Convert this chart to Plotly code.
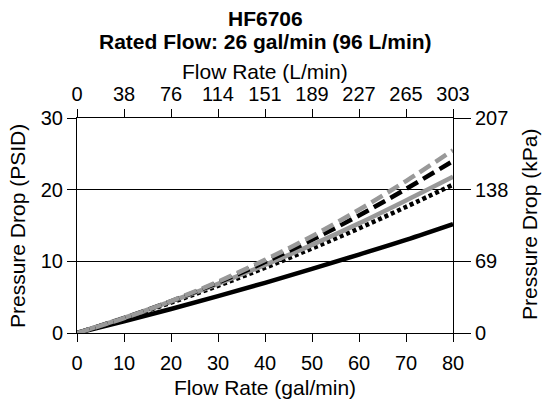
import plotly.graph_objects as go

flow_gpm = [0, 10, 20, 30, 40, 50, 60, 70, 80]
grey_dashed = [0, 2.07, 4.46, 7.16, 10.2, 13.5, 17.2, 21.2, 25.5]
black_dashed = [0, 2.08, 4.43, 7.03, 9.9, 13.0, 16.4, 20.1, 24.0]
grey_solid = [0, 2.11, 4.40, 6.86, 9.5, 12.3, 15.3, 18.5, 21.8]
black_dotted = [0, 2.04, 4.23, 6.59, 9.1, 11.8, 14.6, 17.6, 20.7]
black_solid = [0, 1.64, 3.35, 5.14, 7.0, 8.94, 10.95, 13.0, 15.2]

bottom_ticks = [0, 10, 20, 30, 40, 50, 60, 70, 80]
top_tick_labels = ["0", "38", "76", "114", "151", "189", "227", "265", "303"]
left_ticks = [0, 10, 20, 30]
right_tick_labels = ["0", "69", "138", "207"]

GREY = "#999999"
FONT = "Liberation Sans, Arial, sans-serif"
TICK_SIZE = 20
TITLE_SIZE = 21

fig = go.Figure()
series = [
    (black_solid, "black", "solid"),
    (black_dotted, "black", "4px,3px"),
    (grey_solid, GREY, "solid"),
    (black_dashed, "black", "13px,6px"),
    (grey_dashed, GREY, "13px,6px"),
]
for ys, col, dash in series:
    fig.add_trace(go.Scatter(x=flow_gpm, y=ys, mode="lines",
                             line=dict(color=col, width=4.5, dash=dash, shape="spline"),
                             showlegend=False, hoverinfo="skip"))
# invisible trace for secondary axes
fig.add_trace(go.Scatter(x=[0, 80], y=[0, 30], xaxis="x2", yaxis="y2",
                         mode="markers", marker=dict(opacity=0),
                         showlegend=False, hoverinfo="skip"))

def axis_common(ticklen, standoff=0):
    return dict(showline=True, linecolor="black", linewidth=1,
                ticks="outside", ticklen=ticklen, tickcolor="black", tickwidth=1,
                tickfont=dict(size=TICK_SIZE, color="black", family=FONT),
                ticklabelstandoff=standoff,
                zeroline=False, automargin=False, fixedrange=True)

PLOT_TOP = 118
PLOT_BOTTOM = 333
PLOT_LEFT = 77
PLOT_RIGHT = 453

fig.update_layout(
    width=542, height=402,
    margin=dict(l=PLOT_LEFT, r=542 - PLOT_RIGHT, t=PLOT_TOP, b=402 - PLOT_BOTTOM),
    paper_bgcolor="white", plot_bgcolor="white",
    font=dict(family=FONT, color="black"),
    xaxis=dict(range=[0, 80], tickvals=bottom_ticks, showgrid=False,
               **axis_common(8, 4)),
    xaxis2=dict(range=[0, 80], tickvals=bottom_ticks, ticktext=top_tick_labels,
                overlaying="x", side="top", showgrid=False,
                **axis_common(8, 0)),
    yaxis=dict(range=[0, 30], tickvals=left_ticks, showgrid=True,
               gridcolor="black", gridwidth=1,
               **axis_common(9)),
    yaxis2=dict(range=[0, 30], tickvals=left_ticks, ticktext=right_tick_labels,
                overlaying="y", side="right", showgrid=False,
                **axis_common(17)),
)

def px_x(p):
    return (p - PLOT_LEFT) / float(PLOT_RIGHT - PLOT_LEFT)

def px_y(p):
    return (PLOT_BOTTOM - p) / float(PLOT_BOTTOM - PLOT_TOP)

annots = [
    dict(text="<b>HF6706</b>", x=0.5, y=px_y(18), size=21),
    dict(text="<b>Rated Flow: 26 gal/min (96 L/min)</b>", x=0.5, y=px_y(42), size=21),
    dict(text="Flow Rate (L/min)", x=0.5, y=px_y(71), size=TITLE_SIZE),
    dict(text="Flow Rate (gal/min)", x=0.5, y=px_y(387), size=TITLE_SIZE),
]
for a in annots:
    fig.add_annotation(text=a["text"], x=a["x"], y=a["y"], xref="paper", yref="paper",
                       xanchor="center", yanchor="middle", showarrow=False,
                       font=dict(size=a["size"], family=FONT, color="black"))
fig.add_annotation(text="Pressure Drop (PSID)", x=px_x(17), y=px_y(226),
                   xref="paper", yref="paper", xanchor="center", yanchor="middle",
                   showarrow=False, textangle=-90,
                   font=dict(size=TITLE_SIZE, family=FONT, color="black"))
fig.add_annotation(text="Pressure Drop (kPa)", x=px_x(529), y=px_y(225),
                   xref="paper", yref="paper", xanchor="center", yanchor="middle",
                   showarrow=False, textangle=-90,
                   font=dict(size=TITLE_SIZE, family=FONT, color="black"))

fig.write_html("out.html",
               config={"displayModeBar": False},
               post_script="document.body.style.margin='0';document.body.style.overflow='hidden';")
